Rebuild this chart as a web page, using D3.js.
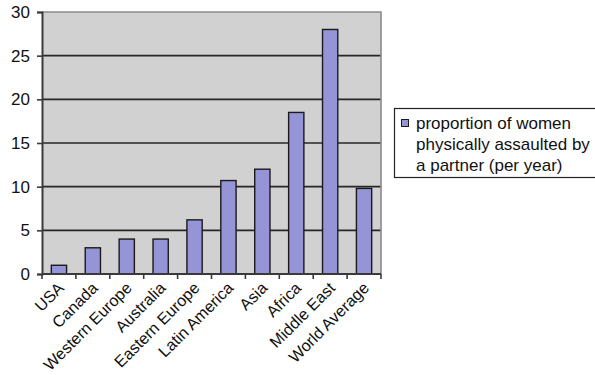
<!DOCTYPE html>
<html>
<head>
<meta charset="utf-8">
<script src="https://cdn.jsdelivr.net/npm/d3@7/dist/d3.min.js"></script>
<style>
  html, body { margin: 0; padding: 0; background: #fff; }
  svg { display: block; font-family: "Liberation Sans", Arial, sans-serif; }
</style>
</head>
<body>
<svg id="chart" width="595" height="375"></svg>
<script>
// Regions and yearly share of women physically assaulted by a partner (%)
const regions = ["USA", "Canada", "Western Europe", "Australia", "Eastern Europe",
                 "Latin America", "Asia", "Africa", "Middle East", "World Average"];
const assaultRates = [1, 3, 4, 4, 6.2, 10.7, 12, 18.5, 28, 9.8];
const yTicks = [0, 5, 10, 15, 20, 25, 30];
const legendLines = ["proportion of women", "physically assaulted by", "a partner (per year)"];

const svg = d3.select("#chart");
const plot = { left: 42, right: 381, top: 12, bottom: 274 };
const fontFamily = "Liberation Sans, Arial, sans-serif";

const x = d3.scaleBand().domain(regions).range([plot.left, plot.right]).paddingInner(0.55).paddingOuter(0.275);
const xCat = d3.scaleBand().domain(regions).range([plot.left, plot.right]);
const y = d3.scaleLinear().domain([0, 30]).range([plot.bottom, plot.top]);

// plot background
svg.append("rect")
  .attr("x", plot.left).attr("y", plot.top)
  .attr("width", plot.right - plot.left).attr("height", plot.bottom - plot.top)
  .attr("fill", "#d1d1d1");

// gridlines
svg.append("g").selectAll("line")
  .data(yTicks.filter(d => d > 0 && d < 30))
  .join("line")
  .attr("x1", plot.left).attr("x2", plot.right)
  .attr("y1", d => y(d)).attr("y2", d => y(d))
  .attr("stroke", "#262626").attr("stroke-width", 1.6);

// top and right frame
svg.append("path")
  .attr("d", `M${plot.left},${plot.top}H${plot.right}V${plot.bottom}`)
  .attr("fill", "none").attr("stroke", "#8a8a8a").attr("stroke-width", 1.6);

// bars
svg.append("g").selectAll("rect")
  .data(regions.map((r, i) => ({ r, v: assaultRates[i] })))
  .join("rect")
  .attr("x", d => x(d.r))
  .attr("width", x.bandwidth())
  .attr("y", d => y(d.v))
  .attr("height", d => y(0) - y(d.v))
  .attr("fill", "#9494d6")
  .attr("stroke", "#1a1a1a").attr("stroke-width", 1.4);

// y axis
const yAxis = svg.append("g")
  .attr("transform", `translate(${plot.left},0)`)
  .call(d3.axisLeft(y).tickValues(yTicks).tickSize(5).tickPadding(7));
yAxis.select(".domain").attr("stroke", "#3a3a3a").attr("stroke-width", 2);
yAxis.selectAll(".tick line").attr("stroke", "#3a3a3a").attr("stroke-width", 1.6);
yAxis.selectAll("text").attr("font-size", 17).attr("fill", "#111")
  .attr("font-family", fontFamily);

// x axis with ticks at category boundaries
const xAxisG = svg.append("g").attr("transform", `translate(0,${plot.bottom})`);
xAxisG.append("line")
  .attr("x1", plot.left).attr("x2", plot.right)
  .attr("stroke", "#3a3a3a").attr("stroke-width", 2);
const bounds = regions.map(r => xCat(r)).concat([plot.right]);
xAxisG.selectAll("line.tick")
  .data(bounds)
  .join("line").attr("class", "tick")
  .attr("x1", d => d).attr("x2", d => d)
  .attr("y1", 0).attr("y2", 5)
  .attr("stroke", "#3a3a3a").attr("stroke-width", 1.6);
xAxisG.selectAll("text")
  .data(regions)
  .join("text")
  .attr("transform", d => `translate(${xCat(d) + xCat.bandwidth() / 2 + 6},15) rotate(-45)`)
  .attr("text-anchor", "end")
  .attr("font-size", 16.2)
  .attr("fill", "#111")
  .text(d => d);

// legend
const legend = svg.append("g");
legend.append("rect")
  .attr("x", 394.5).attr("y", 108.5)
  .attr("width", 210).attr("height", 69)
  .attr("fill", "#fff").attr("stroke", "#222").attr("stroke-width", 1.2);
legend.append("rect")
  .attr("x", 401.5).attr("y", 119.5)
  .attr("width", 7).attr("height", 7)
  .attr("fill", "#9494d6").attr("stroke", "#1a1a1a").attr("stroke-width", 1);
legend.selectAll("text")
  .data(legendLines)
  .join("text")
  .attr("x", 416)
  .attr("y", (d, i) => 128.5 + i * 21.3)
  .attr("font-size", 17)
  .attr("fill", "#111")
  .text(d => d);
</script>
</body>
</html>
